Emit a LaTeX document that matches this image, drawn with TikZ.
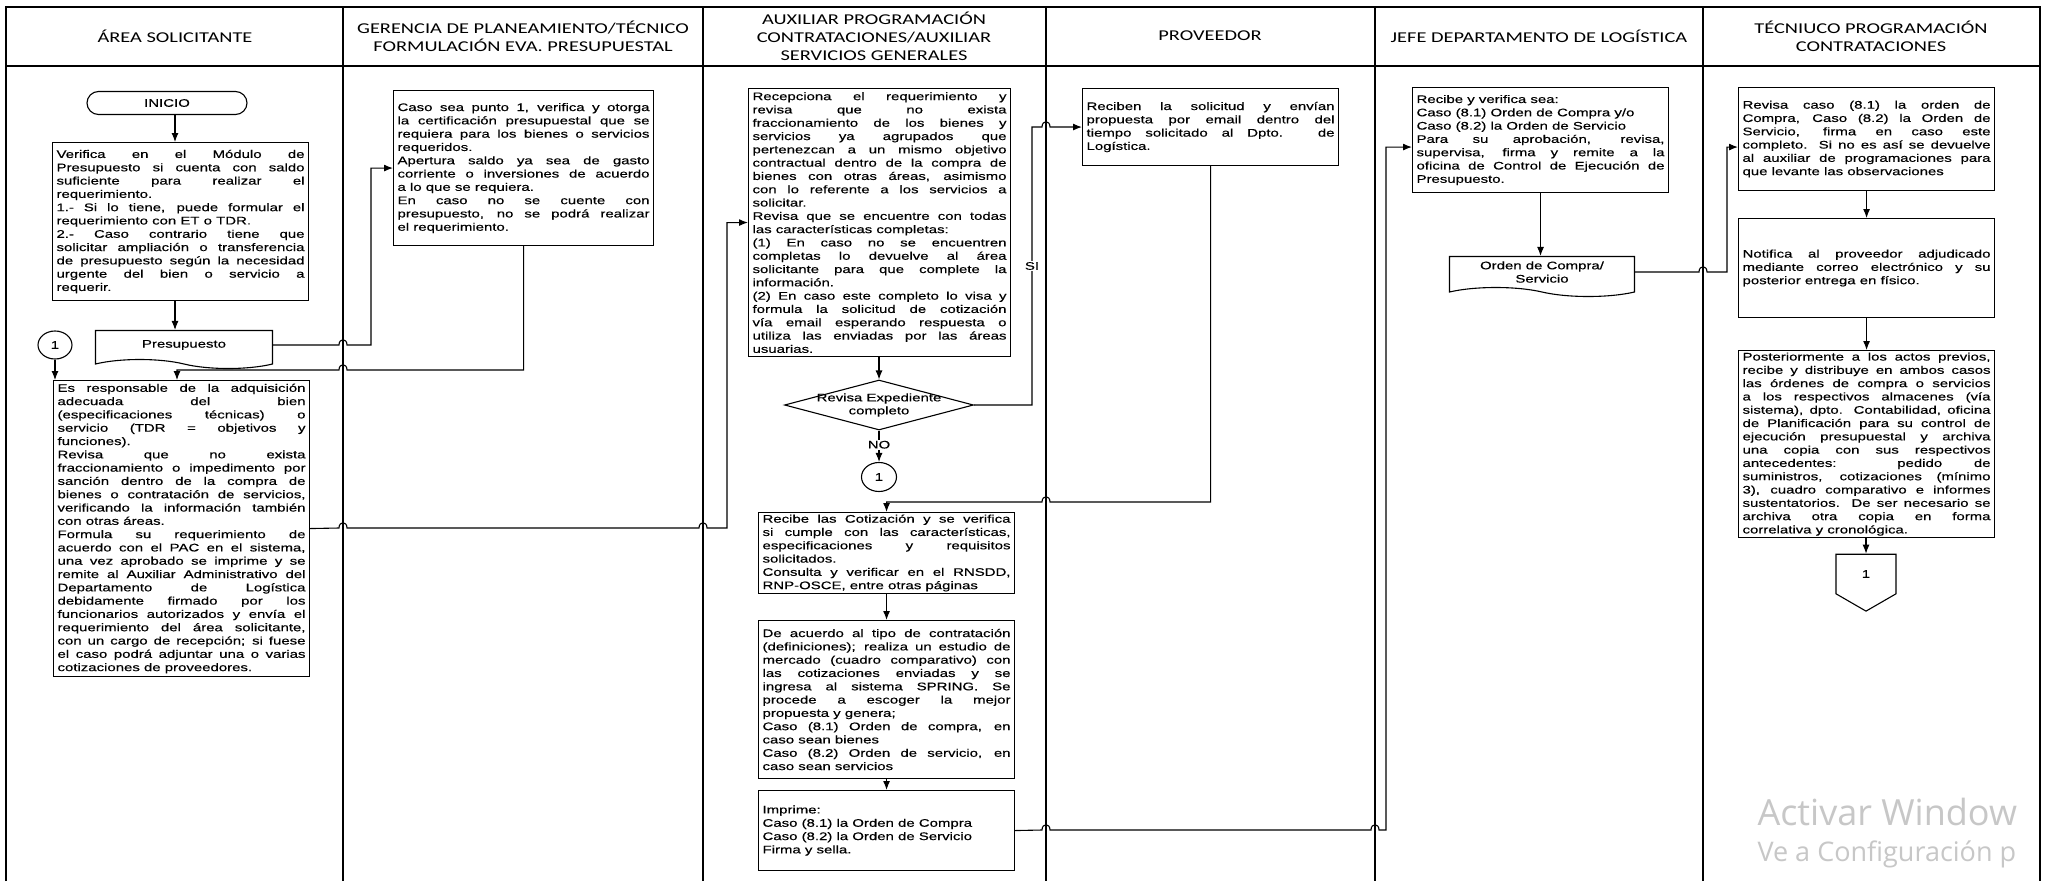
\documentclass[tikz,border=0pt]{standalone}
\usepackage{fontspec}
\setmainfont{Liberation Sans}
\newfontfamily\fuentecaja[FakeStretch=1.36,FakeBold=0.4]{Liberation Sans}
\newfontfamily\fuentetitulo[FakeStretch=1.36]{Carlito}
\newfontfamily\fuenteaviso{Open Sans}
\usetikzlibrary{arrows.meta,shapes.geometric,shapes.symbols,positioning}
\hbadness=10000
% salto de una linea sobre un carril
\newcommand{\saltoder}[2]{-- (#1-4,#2) .. controls (#1-4,#2-7) and (#1+4,#2-7) .. (#1+4,#2)}
\newcommand{\saltoizq}[2]{-- (#1+4,#2) .. controls (#1+4,#2-7) and (#1-4,#2-7) .. (#1-4,#2)}

\begin{document}
\begin{tikzpicture}[>={Latex[length=9pt,width=7pt]}, x=1pt, y=-1pt,
    caja/.style={draw, line width=1.1pt, anchor=north west, inner xsep=4pt, inner ysep=2pt,
        text width=248pt, align=justify, font=\fuentecaja\fontsize{11}{13.3}\selectfont},
    doc/.style={draw, line width=1.1pt, tape, tape bend top=none, tape bend bottom=out and in,
        tape bend height=9pt, align=center, font=\fuentecaja\fontsize{11}{13.3}\selectfont},
    enlace/.style={draw, line width=1.1pt, ellipse, minimum width=34pt, minimum height=28pt,
        inner sep=0pt, font=\fuentecaja\fontsize{11}{13}\selectfont},
    etiqueta/.style={fill=white, inner sep=1pt, font=\fuentecaja\fontsize{11}{13}\selectfont},
    titulo/.style={align=center, font=\fuentetitulo\fontsize{15}{18}\selectfont},
    flecha/.style={->, line width=1.1pt},
    linea/.style={line width=1.3pt}]

    \path[fill=white, use as bounding box] (0,0) rectangle (2045,881);
    % Marco y carriles
    \draw[linea] (6,881) -- (6,7) -- (2040,7) -- (2040,881);
    \draw[linea] (6,66) -- (2040,66);
    \foreach \xc in {343,703,1046,1375,1703}
        \draw[linea] (\xc,7) -- (\xc,881);

    % Titulos de los carriles
    \node[titulo] (tArea) at (175,36) {ÁREA SOLICITANTE};
    \node[titulo] (tGerencia) at (523,36) {GERENCIA DE PLANEAMIENTO/TÉCNICO\\FORMULACIÓN EVA. PRESUPUESTAL};
    \node[titulo] (tAuxiliar) at (874,36) {AUXILIAR PROGRAMACIÓN\\CONTRATACIONES/AUXILIAR\\SERVICIOS GENERALES};
    \node[titulo] (tProveedor) at (1210,36) {PROVEEDOR};
    \node[titulo] (tJefe) at (1539,36) {JEFE DEPARTAMENTO DE LOGÍSTICA};
    \node[titulo] (tTecnico) at (1871,36) {TÉCNIUCO PROGRAMACIÓN\\CONTRATACIONES};

    % Area solicitante
    \coordinate (ejeA) at (175,0);
    \coordinate (ejeB) at (177,0);
    \node[draw, line width=1.1pt, rounded corners=11.5pt, minimum width=160pt, minimum height=23pt,
        font=\fuentecaja\fontsize{11}{13}\selectfont] (inicio) at (167,103) {INICIO};
    \node[caja, minimum height=158pt] (verifica) at (52,142) {Verifica en el Módulo de\linebreak
        Presupuesto si cuenta con saldo\linebreak
        suficiente para realizar el\linebreak
        requerimiento.\\
        1.- Si lo tiene, puede formular el\linebreak
        requerimiento con ET o TDR.\\
        2.- Caso contrario tiene que\linebreak
        solicitar ampliación o transferencia\linebreak
        de presupuesto según la necesidad\linebreak
        urgente del bien o servicio a\linebreak
        requerir.};
    \node[doc, minimum width=177pt, minimum height=38pt] (presupuesto) at (184,345) {Presupuesto};
    \node[enlace] (uno) at (55,345) {1};
    \node[caja, minimum height=296pt] (responsable) at (53,380) {Es responsable de la adquisición\linebreak
        adecuada del bien\linebreak
        (especificaciones técnicas) o\linebreak
        servicio (TDR = objetivos y\linebreak
        funciones).\\
        Revisa que no exista\linebreak
        fraccionamiento o impedimento por\linebreak
        sanción dentro de la compra de\linebreak
        bienes o contratación de servicios,\linebreak
        verificando la información también\linebreak
        con otras áreas.\\
        Formula su requerimiento de\linebreak
        acuerdo con el PAC en el sistema,\linebreak
        una vez aprobado se imprime y se\linebreak
        remite al Auxiliar Administrativo del\linebreak
        Departamento de Logística\linebreak
        debidamente firmado por los\linebreak
        funcionarios autorizados y envía el\linebreak
        requerimiento del área solicitante,\linebreak
        con un cargo de recepción; si fuese\linebreak
        el caso podrá adjuntar una o varias\linebreak
        cotizaciones de proveedores.};

    % Gerencia de planeamiento
    \node[caja, text width=252pt, minimum height=155pt] (gerencia) at (393,90) {Caso sea punto 1, verifica y otorga\linebreak
        la certificación presupuestal que se\linebreak
        requiera para los bienes o servicios\linebreak
        requeridos.\\
        Apertura saldo ya sea de gasto\linebreak
        corriente o inversiones de acuerdo\linebreak
        a lo que se requiera.\\
        En caso no se cuente con\linebreak
        presupuesto, no se podrá realizar\linebreak
        el requerimiento.};

    % Auxiliar de programacion
    \node[caja, text width=254pt, minimum height=268pt] (recepciona) at (748,88) {Recepciona el requerimiento y\linebreak
        revisa que no exista\linebreak
        fraccionamiento de los bienes y\linebreak
        servicios ya agrupados que\linebreak
        pertenezcan a un mismo objetivo\linebreak
        contractual dentro de la compra de\linebreak
        bienes con otras áreas, asimismo\linebreak
        con lo referente a los servicios a\linebreak
        solicitar.\\
        Revisa que se encuentre con todas\linebreak
        las características completas:\\
        (1) En caso no se encuentren\linebreak
        completas lo devuelve al área\linebreak
        solicitante para que complete la\linebreak
        información.\\
        (2) En caso este completo lo visa y\linebreak
        formula la solicitud de cotización\linebreak
        vía email esperando respuesta o\linebreak
        utiliza las enviadas por las áreas\linebreak
        usuarias.};
    \node[draw, line width=1.1pt, diamond, minimum width=189pt, minimum height=50pt, inner sep=0pt] (decision) at (879,405) {};
    \node[align=center, font=\fuentecaja\fontsize{11}{13}\selectfont] (tDecision) at (decision) {Revisa Expediente\\completo};
    \node[enlace, minimum width=35pt, minimum height=29pt] (unoB) at (879,477) {1};
    \node[caja, minimum height=80pt] (cotizacion) at (758,512) {Recibe las Cotización y se verifica\linebreak
        si cumple con las características,\linebreak
        especificaciones y requisitos\linebreak
        solicitados.\\
        Consulta y verificar en el RNSDD,\linebreak
        RNP-OSCE, entre otras páginas};
    \node[caja, minimum height=158pt] (acuerdo) at (758,620) {De acuerdo al tipo de contratación\linebreak
        (definiciones); realiza un estudio de\linebreak
        mercado (cuadro comparativo) con\linebreak
        las cotizaciones enviadas y se\linebreak
        ingresa al sistema SPRING. Se\linebreak
        procede a escoger la mejor\linebreak
        propuesta y genera;\\
        Caso (8.1) Orden de compra, en\linebreak
        caso sean bienes\\
        Caso (8.2) Orden de servicio, en\linebreak
        caso sean servicios};
    \node[caja, minimum height=80pt] (imprime) at (758,790) {Imprime:\\
        Caso (8.1) la Orden de Compra\\
        Caso (8.2) la Orden de Servicio\\
        Firma y sella.};

    % Proveedor
    \node[caja, minimum height=77pt] (proveedor) at (1082,88) {Reciben la solicitud y envían\linebreak
        propuesta por email dentro del\linebreak
        tiempo solicitado al Dpto. de\linebreak
        Logística.};

    % Jefe de logistica
    \node[caja, minimum height=105pt] (jefe) at (1412,87) {Recibe y verifica sea:\\
        Caso (8.1) Orden de Compra y/o\\
        Caso (8.2) la Orden de Servicio\\
        Para su aprobación, revisa,\linebreak
        supervisa, firma y remite a la\linebreak
        oficina de Control de Ejecución de\linebreak
        Presupuesto.};
    \node[doc, minimum width=185pt, minimum height=40pt] (orden) at (1542,272) {Orden de Compra/\\Servicio};

    % Tecnico de programacion
    \node[caja, minimum height=103pt] (tecnico1) at (1738,87) {Revisa caso (8.1) la orden de\linebreak
        Compra, Caso (8.2) la Orden de\linebreak
        Servicio, firma en caso este\linebreak
        completo. Si no es así se devuelve\linebreak
        al auxiliar de programaciones para\linebreak
        que levante las observaciones};
    \node[caja, minimum height=99pt] (tecnico2) at (1738,218) {Notifica al proveedor adjudicado\linebreak
        mediante correo electrónico y su\linebreak
        posterior entrega en físico.};
    \node[caja] (tecnico3) at (1738,350) {Posteriormente a los actos previos,\linebreak
        recibe y distribuye en ambos casos\linebreak
        las órdenes de compra o servicios\linebreak
        a los respectivos almacenes (vía\linebreak
        sistema), dpto. Contabilidad, oficina\linebreak
        de Planificación para su control de\linebreak
        ejecución presupuestal y archiva\linebreak
        una copia con sus respectivos\linebreak
        antecedentes: pedido de\linebreak
        suministros, cotizaciones (mínimo\linebreak
        3), cuadro comparativo e informes\linebreak
        sustentatorios. De ser necesario se\linebreak
        archiva otra copia en forma\linebreak
        correlativa y cronológica.};
    \node[draw, line width=1.1pt, signal, signal to=south, signal pointer angle=120, minimum width=60pt,
        minimum height=42pt, inner sep=0pt, font=\fuentecaja\fontsize{11}{13}\selectfont] (salida) at (1866,574) {1};

    % Conectores
    \draw[flecha] (inicio.south -| ejeA) -- (verifica.north -| ejeA);
    \draw[flecha] (verifica.south -| ejeA) -- (presupuesto.north -| ejeA);
    \draw[flecha] (presupuesto.east) \saltoder{343}{345} -- (371,345) |- (gerencia.west);
    \draw[flecha] (gerencia.south) -- (gerencia.south |- 0,370) \saltoizq{343}{370} -| (ejeB |- responsable.north);
    \draw[flecha] (uno) -- (uno |- responsable.north);
    \draw[flecha] (responsable.east) \saltoder{343}{528} \saltoder{703}{528} -- (727,528) |- (recepciona.west);
    \draw[flecha] (recepciona.south -| decision.north) -- (decision.north);
    \draw[flecha] (decision.south) -- (unoB.north) node[etiqueta, pos=0.45] (lNo) {NO};
    \draw[flecha] (decision.east) -| (1032,127) node[etiqueta, pos=0.75] (lSi) {SI}
        \saltoder{1046}{127} -- (proveedor.west);
    \draw[flecha] (proveedor.south) -- (proveedor.south |- 0,502) \saltoizq{1046}{502} -| (cotizacion.north);
    \draw[flecha] (cotizacion) -- (acuerdo);
    \draw[flecha] (acuerdo) -- (imprime);
    \draw[flecha] (imprime.east) \saltoder{1046}{830} \saltoder{1375}{830} -- (1386,830) |- ([yshift=-7pt]jefe.west);
    \draw[flecha] (jefe.south) -- (jefe.south |- orden.north);
    \draw[flecha] (orden.east) \saltoder{1703}{272} -- (1727,272) |- ([yshift=-8pt]tecnico1.west);
    \draw[flecha] (tecnico1) -- (tecnico2);
    \draw[flecha] (tecnico2) -- (tecnico3);
    \draw[flecha] (tecnico3.south -| salida.north) -- (salida.north);

    % Aviso de la pantalla
    \node[anchor=west, text=black!22, font=\fuenteaviso\fontsize{36}{40}\selectfont] (aviso1) at (1754,812) {Activar Window};
    \node[anchor=west, text=black!22, font=\fuenteaviso\fontsize{27}{30}\selectfont] (aviso2) at (1754,854) {Ve a Configuración p};
\end{tikzpicture}
\end{document}
